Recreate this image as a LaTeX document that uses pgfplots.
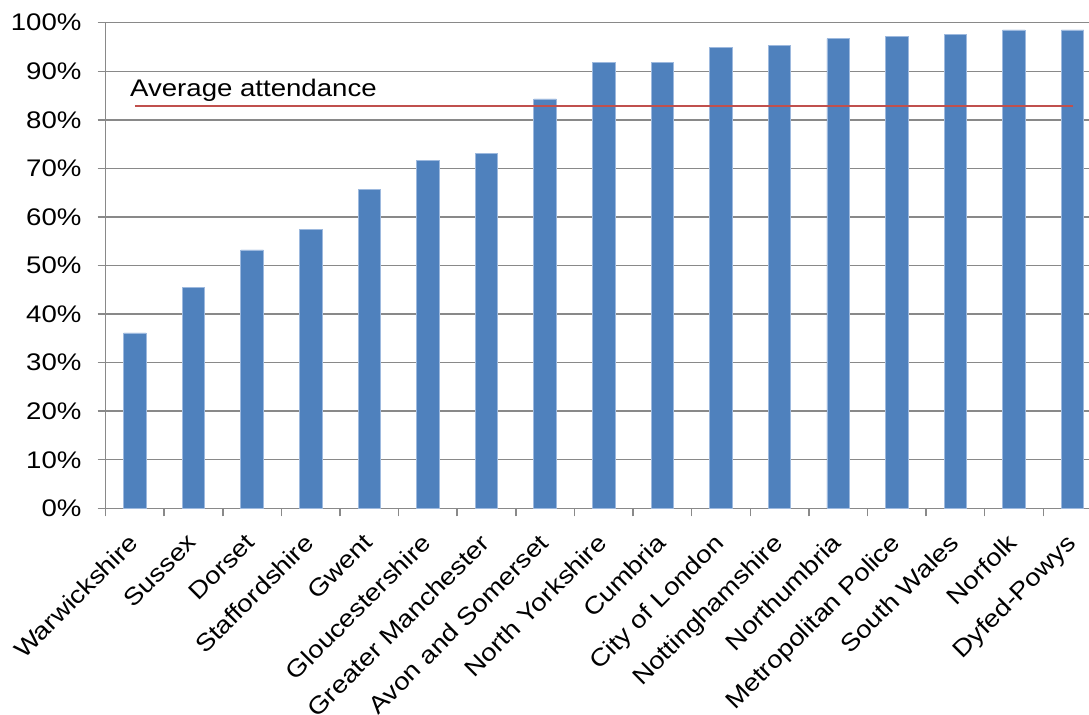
\documentclass[border=0pt]{standalone}
\usepackage{pgfplots}
\pgfplotsset{compat=1.18}
\usepackage{fontspec}
\setmainfont{Liberation Sans}[FakeStretch=1.15]
\definecolor{barblue}{HTML}{4F81BD}
\definecolor{baredge}{HTML}{9DB9DE}
\definecolor{gridgray}{HTML}{898989}
\definecolor{avgred}{HTML}{C0504D}
\begin{document}
\fontsize{24bp}{28bp}\selectfont
\begin{tikzpicture}
\begin{axis}[
  at={(0,0)}, anchor=south west,
  scale only axis, width=983.4bp, height=485.6bp,
  xmin=-0.5, xmax=16.28, ymin=0, ymax=100,
  axis lines*=left,
  axis line style={gridgray, line width=1.5bp},
  tick align=outside,
  major tick length=8bp, minor tick length=8bp,
  tick style={gridgray, line width=1.5bp},
  ytick={0,10,...,100},
  yticklabels={0\%,10\%,20\%,30\%,40\%,50\%,60\%,70\%,80\%,90\%,100\%},
  ymajorgrids, grid style={gridgray, line width=1.5bp},
  xtick={0,...,16},
  every major x tick/.append style={draw=none},
  minor xtick={-0.5,0.5,...,15.5},
  xticklabels={Warwickshire,Sussex,Dorset,Staffordshire,Gwent,Gloucestershire,Greater Manchester,Avon and Somerset,North Yorkshire,Cumbria,City of London,Nottinghamshire,Northumbria,Metropolitan Police,South Wales,Norfolk,Dyfed-Powys},
  xticklabel style={rotate=45, anchor=north east, font=\fontsize{24bp}{28bp}\selectfont, inner sep=0pt, xshift=-16.6bp, yshift=-5.7bp},
  yticklabel style={font=\fontsize{24bp}{28bp}\selectfont, xshift=-8bp},
  clip=false,
]
\addplot[ybar, bar width=22.5bp, fill=barblue, draw=baredge, line width=0.8bp] coordinates {
 (0,36.1) (1,45.4) (2,53.2) (3,57.4) (4,65.7) (5,71.7) (6,73.1) (7,84.3)
 (8,91.8) (9,91.8) (10,94.9) (11,95.3) (12,96.7) (13,97.1) (14,97.5) (15,98.5) (16,98.5)
};
\addplot[avgred, line width=2bp, mark=none] coordinates {(0,82.8) (16,82.8)};
\node[anchor=base west, inner sep=0pt, font=\fontsize{24bp}{28bp}\selectfont] at (axis cs:-0.084,84.7) {Average attendance};
\end{axis}
\pgfresetboundingbox
\useasboundingbox (-105.6bp,-206.7bp) rectangle (983.4bp,508.3bp);
\end{tikzpicture}
\end{document}
